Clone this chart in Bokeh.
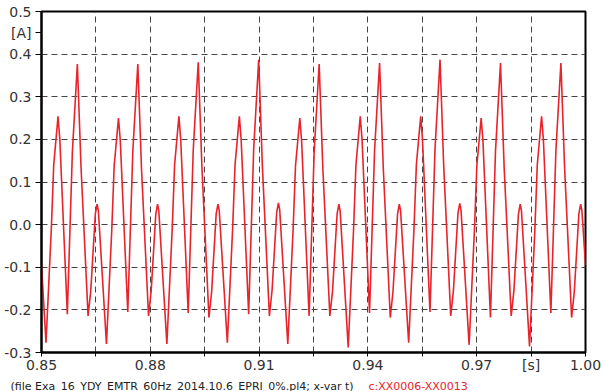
from bokeh.plotting import figure
from bokeh.layouts import column
from bokeh.models import Range1d, FixedTicker, PrintfTickFormatter, Label
from bokeh.embed import file_html
from bokeh.resources import INLINE

# time [s] of the plotted samples
t_s = [
    0.85000,
    0.85124, 0.85271, 0.85337, 0.85456, 0.85505, 0.85712, 0.85851, 0.85989, 0.86091, 0.86284, 0.86358, 0.86484, 0.86533, 0.86568,
    0.86791, 0.86938, 0.87004, 0.87123, 0.87172, 0.87379, 0.87518, 0.87656, 0.87758, 0.87951, 0.88025, 0.88151, 0.88200, 0.88235,
    0.88457, 0.88604, 0.88670, 0.88789, 0.88838, 0.89045, 0.89184, 0.89322, 0.89424, 0.89617, 0.89691, 0.89817, 0.89866, 0.89901,
    0.90124, 0.90271, 0.90337, 0.90456, 0.90505, 0.90712, 0.90851, 0.90989, 0.91091, 0.91284, 0.91358, 0.91484, 0.91533, 0.91568,
    0.91791, 0.91938, 0.92004, 0.92123, 0.92172, 0.92379, 0.92518, 0.92656, 0.92758, 0.92951, 0.93025, 0.93151, 0.93200, 0.93235,
    0.93457, 0.93604, 0.93670, 0.93789, 0.93838, 0.94045, 0.94184, 0.94322, 0.94424, 0.94617, 0.94691, 0.94817, 0.94866, 0.94901,
    0.95124, 0.95271, 0.95337, 0.95456, 0.95505, 0.95712, 0.95851, 0.95989, 0.96091, 0.96284, 0.96358, 0.96484, 0.96533, 0.96568,
    0.96791, 0.96938, 0.97004, 0.97123, 0.97172, 0.97379, 0.97518, 0.97656, 0.97758, 0.97951, 0.98025, 0.98151, 0.98200, 0.98235,
    0.98457, 0.98604, 0.98670, 0.98789, 0.98838, 0.99045, 0.99184, 0.99322, 0.99424, 0.99617, 0.99691, 0.99817, 0.99866, 0.99901,
    1.00000,
]

# current [A]
i_a = [
    -0.095,
    -0.277, -0.010, 0.140, 0.254, 0.200, -0.210, 0.170, 0.377, 0.133, -0.214, -0.156, 0.025, 0.048, 0.033,
    -0.280, -0.012, 0.138, 0.250, 0.198, -0.205, 0.172, 0.377, 0.130, -0.214, -0.155, 0.024, 0.048, 0.032,
    -0.280, -0.010, 0.140, 0.254, 0.201, -0.207, 0.175, 0.381, 0.134, -0.218, -0.158, 0.026, 0.048, 0.033,
    -0.277, -0.008, 0.141, 0.254, 0.200, -0.210, 0.178, 0.387, 0.136, -0.214, -0.154, 0.028, 0.051, 0.035,
    -0.280, -0.011, 0.138, 0.250, 0.197, -0.214, 0.170, 0.377, 0.131, -0.214, -0.156, 0.025, 0.048, 0.032,
    -0.288, -0.013, 0.140, 0.254, 0.201, -0.207, 0.174, 0.379, 0.133, -0.218, -0.158, 0.024, 0.048, 0.033,
    -0.277, -0.009, 0.141, 0.254, 0.200, -0.205, 0.178, 0.387, 0.136, -0.214, -0.155, 0.027, 0.050, 0.034,
    -0.282, -0.012, 0.138, 0.250, 0.197, -0.218, 0.172, 0.379, 0.132, -0.214, -0.156, 0.025, 0.048, 0.032,
    -0.286, -0.012, 0.140, 0.254, 0.201, -0.207, 0.174, 0.379, 0.133, -0.218, -0.158, 0.025, 0.048, 0.033,
    -0.095,
]

x_ticks = [0.85, 0.865, 0.88, 0.895, 0.91, 0.925, 0.94, 0.955, 0.97, 0.985, 1.0]
x_tick_overrides = {0.865: "", 0.895: "", 0.925: "", 0.955: "", 0.985: "[s]"}
y_grid_ticks = [-0.3, -0.2, -0.1, 0.0, 0.1, 0.2, 0.3, 0.4, 0.5]
y_label_ticks = [-0.3, -0.2, -0.1, 0.0, 0.1, 0.2, 0.3, 0.4, 0.45, 0.5]
y_tick_overrides = {0.45: "[A]"}
footer_text = "(file Exa_16_YDY_EMTR_60Hz_2014.10.6_EPRI_0%.pl4; x-var t)"
footer_series = "c:XX0006-XX0013"

FONT = "DejaVu Sans"
RED = "#e8232b"

p = figure(width=603, height=375, output_backend="svg", toolbar_location=None,
           x_range=Range1d(0.85, 1.0), y_range=Range1d(-0.3, 0.5),
           min_border_left=41, min_border_right=18, min_border_top=11, min_border_bottom=21)
p.frame_align = False

p.line(t_s, i_a, line_color=RED, line_width=1.6)

for ax in (p.xaxis[0], p.yaxis[0]):
    ax.axis_line_color = "black"
    ax.axis_line_width = 2
    ax.major_tick_line_color = "black"
    ax.major_tick_in = 0
    ax.minor_tick_line_color = None
    ax.major_label_text_font = FONT
    ax.major_label_text_font_size = "14px"
    ax.major_label_text_color = "#333333"
p.xaxis.major_tick_out = 4
p.xaxis.major_label_standoff = 0
p.yaxis.major_tick_out = 6
p.yaxis.major_label_standoff = 4

p.xaxis.ticker = FixedTicker(ticks=x_ticks)
p.xaxis.formatter = PrintfTickFormatter(format="%.2f")
p.xaxis.major_label_overrides = x_tick_overrides
p.yaxis.ticker = FixedTicker(ticks=y_label_ticks)
p.yaxis.formatter = PrintfTickFormatter(format="%.1f")
p.yaxis.major_label_overrides = y_tick_overrides

p.xgrid.ticker = FixedTicker(ticks=x_ticks)
p.ygrid.ticker = FixedTicker(ticks=y_grid_ticks)
for g in (p.xgrid[0], p.ygrid[0]):
    g.grid_line_color = "#444444"
    g.grid_line_dash = "6 4"
    g.grid_line_width = 1

p.outline_line_color = "black"
p.outline_line_width = 2
p.background_fill_color = "white"
p.border_fill_color = "white"

# footer strip (file / variable information); its frame is the whole strip
foot = figure(width=603, height=16, output_backend="svg", toolbar_location=None,
              x_range=Range1d(0, 603), y_range=Range1d(0, 16),
              x_axis_type=None, y_axis_type=None, min_border=0)
foot.frame_align = False
foot.outline_line_color = None
foot.grid.visible = False
foot.add_layout(Label(x=10, y=5.5, text=footer_text, text_align="left",
                      text_baseline="alphabetic", text_font=FONT, text_font_size="11px",
                      text_color="#222222"))
foot.add_layout(Label(x=368, y=5.5, text=footer_series, text_align="left",
                      text_baseline="alphabetic", text_font=FONT, text_font_size="11px",
                      text_color=RED))

layout = column(p, foot, spacing=0)
open("out.html", "w").write(file_html(layout, INLINE))
